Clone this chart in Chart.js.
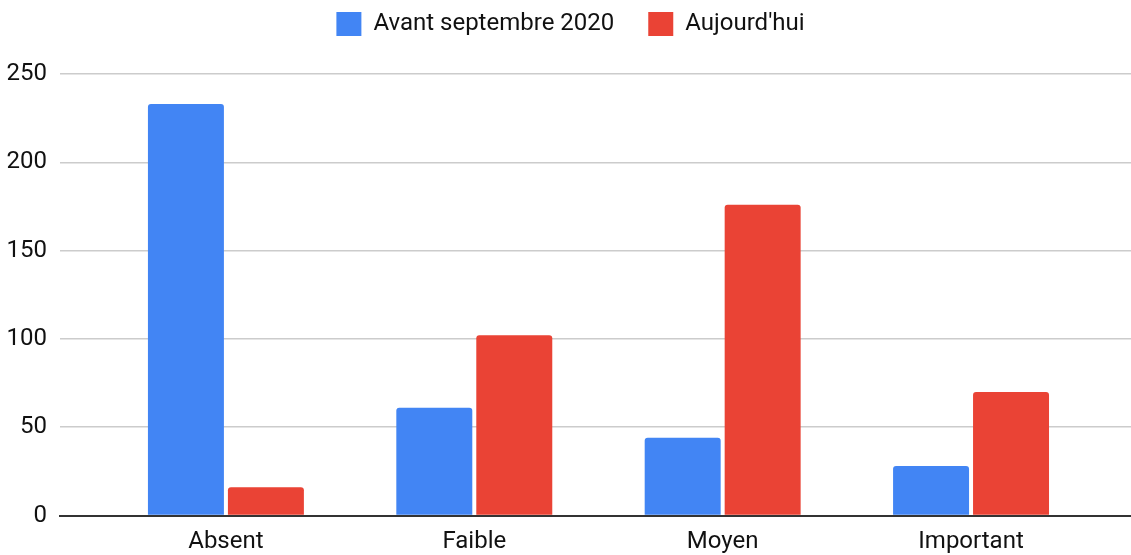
<!DOCTYPE html>
<html>
<head>
<meta charset="utf-8">
<script src="https://cdn.jsdelivr.net/npm/chart.js@4/dist/chart.umd.min.js"></script>
<style>
  html, body { margin: 0; padding: 0; background: #fff; }
  #wrap { width: 1131px; height: 555px; }
</style>
</head>
<body>
<div id="wrap"><canvas id="chart"></canvas></div>
<script>
const categories = ["Absent", "Faible", "Moyen", "Important"];
const avantValues = [233, 61, 44, 28];
const aujourdhuiValues = [16, 102, 176, 70];
const yTicks = [0, 50, 100, 150, 200, 250];

const FONT = "Roboto, 'Liberation Sans', Arial, sans-serif";
Chart.defaults.font.family = FONT;
Chart.defaults.font.size = 24;
Chart.defaults.color = "#111";

// points on a linear x scale so the category spacing can match the original
const toPoints = (vals) => vals.map((v, i) => ({ x: i, y: v }));

// legend: keep the plot top at the same place and nudge the row a bit right
const legendSpace = {
    id: "legendSpace",
    beforeInit(chart) {
        const fit = chart.legend.fit;
        chart.legend.fit = function () {
            fit.bind(chart.legend)();
            this.height = 96;
            this.lineWidths[0] -= 10;
        };
    }
};

const ctx = document.getElementById("chart").getContext("2d");
new Chart(ctx, {
    type: "bar",
    data: {
        datasets: [
            {
                label: "Avant septembre 2020",
                data: toPoints(avantValues),
                backgroundColor: "#4285F4",
                borderRadius: 3,
                categoryPercentage: 0.644,
                barPercentage: 0.95
            },
            {
                label: "Aujourd'hui",
                data: toPoints(aujourdhuiValues),
                backgroundColor: "#EA4335",
                borderRadius: 3,
                categoryPercentage: 0.644,
                barPercentage: 0.95
            }
        ]
    },
    options: {
        responsive: true,
        maintainAspectRatio: false,
        animation: false,
        layout: { padding: { top: -22, right: 0, bottom: 0, left: 0 } },
        plugins: {
            legend: {
                position: "top",
                labels: {
                    boxWidth: 25,
                    boxHeight: 24,
                    padding: 34,
                    color: "#111",
                    font: { size: 24 }
                }
            },
            tooltip: { enabled: false }
        },
        scales: {
            x: {
                type: "linear",
                min: -0.668,
                max: 3.644,
                offset: false,
                grid: { display: false, drawTicks: false },
                border: { display: true, color: "#333", width: 2 },
                ticks: {
                    stepSize: 1,
                    includeBounds: false,
                    padding: 12,
                    autoSkip: false,
                    maxRotation: 0,
                    callback: (v) => categories[v] ?? ""
                },
                afterBuildTicks: (scale) => {
                    scale.ticks = categories.map((c, i) => ({ value: i }));
                },
                afterFit: (scale) => { scale.height = 39.5; }
            },
            y: {
                min: 0,
                max: 250,
                grid: {
                    color: (c) => c.tick.value === 0 ? "rgba(0,0,0,0)" : "#cccccc",
                    lineWidth: 1.5,
                    drawTicks: false
                },
                border: { display: false },
                ticks: { padding: 13, stepSize: 50 },
                afterBuildTicks: (scale) => {
                    scale.ticks = yTicks.map(v => ({ value: v }));
                },
                afterFit: (scale) => { scale.width = 60; }
            }
        }
    },
    plugins: [legendSpace]
});
</script>
</body>
</html>
